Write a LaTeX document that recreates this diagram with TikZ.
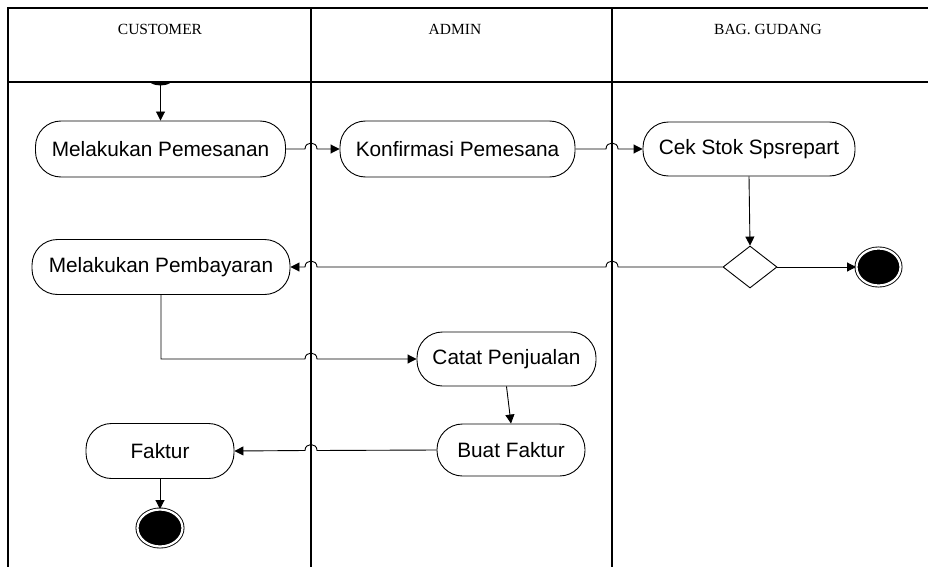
\documentclass[tikz,border=0pt]{standalone}
\usepackage{fontspec}
\setmainfont{Liberation Sans}
\newfontfamily\hdrfont{Liberation Serif}
\usetikzlibrary{arrows.meta,shapes.geometric}
\begin{document}
\begin{tikzpicture}[x=1pt,y=-1pt,
 act/.style={draw, line width=0.9pt, rounded corners=25.5pt, font=\fontsize{20.8}{24}\selectfont, inner sep=0pt},
 arr/.style={line width=0.9pt, -{Triangle[length=9pt,width=9pt]}},
 lane/.style={line width=1.2pt},
 hdr/.style={font=\hdrfont\fontsize{15.5}{18}\selectfont, inner sep=0pt},
 endo/.style={ellipse, draw=black, fill=black, double=white, double distance=2.2pt, line width=0.9pt, inner sep=0pt},
 decision/.style={diamond, draw, line width=0.9pt, aspect=1.3, minimum width=54pt, minimum height=42pt, inner sep=0pt}]
\useasboundingbox (0,0) rectangle (928,567);
% swimlane frame
\draw[lane] (928,8) -- (8,8) -- (8,567);
\draw[line width=2pt] (8,82) -- (928,82);
\draw[lane] (311,8) -- (311,567);
\draw[lane] (612,8) -- (612,567);
\node[hdr] (hc) at (160,29) {CUSTOMER};
\node[hdr] (ha) at (455,29) {ADMIN};
\node[hdr] (hg) at (768,29) {BAG. GUDANG};
% start
\fill (150,82) .. controls (153,86.5) and (168,86.5) .. (171,82) -- cycle;
\coordinate (start) at (160.5,85);
% activities
\node[act, minimum width=250pt, minimum height=56pt] (pesan) at (160.5,149) {Melakukan Pemesanan};
\node[act, minimum width=235pt, minimum height=56pt] (konf) at (457.5,149) {Konfirmasi Pemesana};
\node[act, minimum width=212pt, minimum height=54pt] (cek) at (749,149) {Cek Stok Spsrepart};
\node[decision] (dec) at (750,267) {};
\node[endo, minimum width=44pt, minimum height=37pt] (end1) at (878.5,267) {};
\node[act, minimum width=258pt, minimum height=55pt] (bayar) at (161,267) {Melakukan Pembayaran};
\node[act, minimum width=179pt, minimum height=54pt] (catat) at (506.5,359) {Catat Penjualan};
\node[act, minimum width=148pt, minimum height=52pt] (buat) at (511,450) {Buat Faktur};
\node[act, minimum width=148pt, minimum height=55pt] (faktur) at (160,451) {Faktur};
\node[endo, minimum width=45pt, minimum height=37pt] (end2) at (160,528) {};
% connectors
\draw[arr] (start) -- (pesan.north);
\draw[arr] (pesan.east) -- (305,149) .. controls (305,141) and (317,141) .. (317,149) -- (konf.west);
\draw[arr] (konf.east) -- (606,149) .. controls (606,141) and (618,141) .. (618,149) -- (cek.west);
\draw[arr] (cek.south) -- (dec.north);
\draw[arr] (dec.east) -- (end1.west);
\draw[arr] (dec.west) -- (618,267) .. controls (618,259) and (606,259) .. (606,267) -- (317,267) .. controls (317,259) and (305,259) .. (305,267) -- (bayar.east);
\draw[arr] (bayar.south) -- (161,359) -- (305,359) .. controls (305,351) and (317,351) .. (317,359) -- (catat.west);
\draw[arr] (catat.south) -- (buat.north);
\draw[arr] (buat.west) -- (317,450.5) .. controls (317,442.5) and (305,442.5) .. (305,450.5) -- (faktur.east);
\draw[arr] (faktur.south) -- (end2.north);
\end{tikzpicture}
\end{document}
